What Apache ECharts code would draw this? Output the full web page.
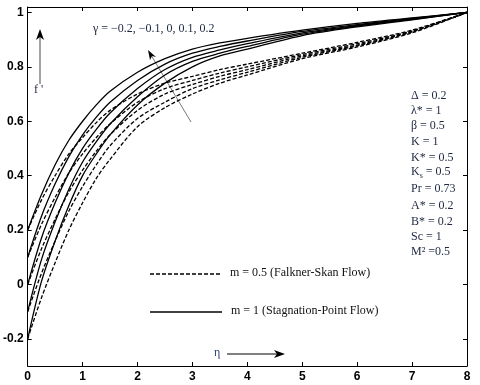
<!DOCTYPE html>
<html>
<head>
<meta charset="utf-8">
<script src="https://cdn.jsdelivr.net/npm/echarts@6/dist/echarts.min.js"></script>
<style>
  html, body { margin: 0; padding: 0; background: #fff; }
  #chart { width: 480px; height: 385px; }
</style>
</head>
<body>
<div id="chart"></div>
<script>
// η 取样点
const eta = [0, 0.25, 0.5, 0.75, 1, 1.25, 1.5, 2, 2.5, 3, 3.5, 4, 5, 6, 7, 8];

// m = 1 (Stagnation-Point Flow), γ = 0.2, 0.1, 0, -0.1, -0.2
const stagP02 = [0.2, 0.33, 0.44, 0.53, 0.60, 0.66, 0.71, 0.78, 0.83, 0.865, 0.888, 0.905, 0.935, 0.96, 0.98, 1];
const stagP01 = [0.1, 0.25, 0.37, 0.47, 0.55, 0.615, 0.67, 0.75, 0.81, 0.85, 0.875, 0.895, 0.93, 0.955, 0.978, 1];
const stag00  = [0, 0.17, 0.30, 0.41, 0.50, 0.57, 0.63, 0.72, 0.79, 0.835, 0.862, 0.885, 0.925, 0.952, 0.976, 1];
const stagM01 = [-0.1, 0.09, 0.23, 0.35, 0.45, 0.525, 0.59, 0.69, 0.77, 0.82, 0.85, 0.875, 0.92, 0.95, 0.975, 1];
const stagM02 = [-0.2, 0.01, 0.16, 0.29, 0.40, 0.48, 0.55, 0.66, 0.74, 0.80, 0.84, 0.865, 0.915, 0.947, 0.973, 1];

// m = 0.5 (Falkner-Skan Flow), γ = 0.2, 0.1, 0, -0.1, -0.2
const fsP02 = [0.2, 0.31, 0.40, 0.48, 0.54, 0.595, 0.64, 0.70, 0.74, 0.765, 0.79, 0.81, 0.85, 0.89, 0.935, 1];
const fsP01 = [0.1, 0.22, 0.32, 0.41, 0.48, 0.54, 0.59, 0.67, 0.72, 0.75, 0.777, 0.80, 0.845, 0.885, 0.932, 1];
const fs00  = [0, 0.13, 0.24, 0.34, 0.42, 0.49, 0.55, 0.64, 0.70, 0.735, 0.765, 0.79, 0.84, 0.88, 0.93, 1];
const fsM01 = [-0.1, 0.04, 0.16, 0.27, 0.36, 0.44, 0.51, 0.61, 0.67, 0.72, 0.752, 0.78, 0.835, 0.877, 0.928, 1];
const fsM02 = [-0.2, -0.05, 0.08, 0.20, 0.30, 0.39, 0.46, 0.58, 0.65, 0.70, 0.74, 0.77, 0.83, 0.873, 0.925, 1];

// 刻度
const xTicks = [0, 1, 2, 3, 4, 5, 6, 7, 8];
const yTicks = [-0.2, 0, 0.2, 0.4, 0.6, 0.8, 1];

const dashName = 'm = 0.5 (Falkner-Skan Flow)';
const solidName = 'm = 1 (Stagnation-Point Flow)';

const params = ['Δ = 0.2', 'λ* = 1', 'β = 0.5', 'K = 1', 'K* = 0.5', 'Ks', 'Pr = 0.73', 'A* = 0.2', 'B* = 0.2', 'Sc = 1', 'M² =0.5'];

function pairs(ys) {
    return eta.map((x, i) => [x, ys[i]]);
}

function curve(name, ys, dashed) {
    return {
        name: name,
        type: 'line',
        data: pairs(ys),
        smooth: 0.3,
        symbol: 'none',
        silent: true,
        itemStyle: { color: '#000' },
        lineStyle: { color: '#000', width: 1.3, type: dashed ? [4, 2] : 'solid' }
    };
}

const serif = '"Liberation Serif", "DejaVu Serif", serif';
const textColor = '#1e2740';

const chart = echarts.init(document.getElementById('chart'), null, { renderer: 'canvas' });

const axisCommon = {
    axisLine: { show: true, onZero: false, lineStyle: { color: '#000', width: 1 } },
    axisTick: { show: true, inside: true, length: 4, lineStyle: { color: '#000' } },
    splitLine: { show: false }
};

const labelStyle = { color: '#000', fontWeight: 'bold', fontSize: 12, fontFamily: '"Liberation Sans", Arial, sans-serif' };

// 参数说明
const paramTops = [97, 112, 127, 143, 159, 173, 190, 207, 223, 238, 253];
const paramGraphics = params.map((p, i) => {
    if (p === 'Ks') {
        return {
            type: 'text', left: 411, top: paramTops[i] - 7,
            style: {
                text: '{n|K}{s|s}{n| = 0.5}',
                rich: {
                    n: { fontFamily: serif, fontSize: 12, fill: textColor, lineHeight: 16 },
                    s: { fontFamily: serif, fontSize: 8, fill: textColor, lineHeight: 16, verticalAlign: 'bottom', padding: [6, 0, 0, 0] }
                }
            }
        };
    }
    return {
        type: 'text', left: 411, top: paramTops[i] - 7,
        style: { text: p, font: '12px ' + serif, fill: textColor }
    };
});

const option = {
    animation: false,
    backgroundColor: '#fff',
    grid: { left: 27, right: 13, top: 7, bottom: 19 },
    xAxis: [
        Object.assign({
            type: 'value', min: 0, max: 8, interval: 1, position: 'bottom',
            axisLabel: Object.assign({ margin: 5, customValues: xTicks }, labelStyle)
        }, axisCommon),
        Object.assign({
            type: 'value', min: 0, max: 8, interval: 1, position: 'top',
            axisLabel: { show: false }
        }, axisCommon)
    ],
    yAxis: [
        Object.assign({
            type: 'value', min: -0.3, max: 1.02, position: 'left',
            axisLabel: Object.assign({ margin: 4, customValues: yTicks }, labelStyle)
        }, axisCommon, { axisTick: Object.assign({}, axisCommon.axisTick, { customValues: yTicks }) }),
        Object.assign({
            type: 'value', min: -0.3, max: 1.02, position: 'right',
            axisLabel: { show: false, customValues: yTicks }
        }, axisCommon, { axisTick: Object.assign({}, axisCommon.axisTick, { customValues: yTicks }) })
    ],
    series: [
        curve(dashName, fsP02, true),
        curve(dashName, fsP01, true),
        curve(dashName, fs00, true),
        curve(dashName, fsM01, true),
        curve(dashName, fsM02, true),
        curve(solidName, stagP02, false),
        curve(solidName, stagP01, false),
        curve(solidName, stag00, false),
        curve(solidName, stagM01, false),
        curve(solidName, stagM02, false)
    ],
    graphic: [
        // γ 注释与箭头
        { type: 'text', left: 93, top: 23, style: { text: 'γ = −0.2, −0.1, 0, 0.1, 0.2', font: '12px ' + serif, fill: textColor } },
        { type: 'line', shape: { x1: 191, y1: 122, x2: 151, y2: 55 }, style: { stroke: '#555', lineWidth: 0.8 } },
        { type: 'polygon', shape: { points: [[148, 50], [156, 57], [152, 56], [150, 60]] }, style: { fill: '#000' } },
        // f' 箭头
        { type: 'line', shape: { x1: 40, y1: 84, x2: 40, y2: 36 }, style: { stroke: '#666', lineWidth: 1.2 } },
        { type: 'polygon', shape: { points: [[40, 29], [44, 40], [40, 37], [36, 40]] }, style: { fill: '#000' } },
        { type: 'text', left: 34, top: 84, style: { text: "f '", font: '12px ' + serif, fill: textColor } },
        // η 箭头
        { type: 'text', left: 214, top: 347, style: { text: 'η', font: '12px ' + serif, fill: '#2a3c6a' } },
        { type: 'line', shape: { x1: 227, y1: 354, x2: 280, y2: 354 }, style: { stroke: '#000', lineWidth: 1 } },
        { type: 'polygon', shape: { points: [[285, 354], [274, 350], [277, 354], [274, 358]] }, style: { fill: '#000' } },
        // 图例
        { type: 'line', shape: { x1: 150, y1: 274, x2: 222, y2: 274 }, style: { stroke: '#000', lineWidth: 1.3, lineDash: [4, 2] } },
        { type: 'text', left: 230, top: 267, style: { text: dashName, font: '12px ' + serif, fill: '#111' } },
        { type: 'line', shape: { x1: 150, y1: 312, x2: 222, y2: 312 }, style: { stroke: '#000', lineWidth: 1.3 } },
        { type: 'text', left: 231, top: 305, style: { text: solidName, font: '12px ' + serif, fill: '#111' } }
    ].concat(paramGraphics)
};

chart.setOption(option);
</script>
</body>
</html>
